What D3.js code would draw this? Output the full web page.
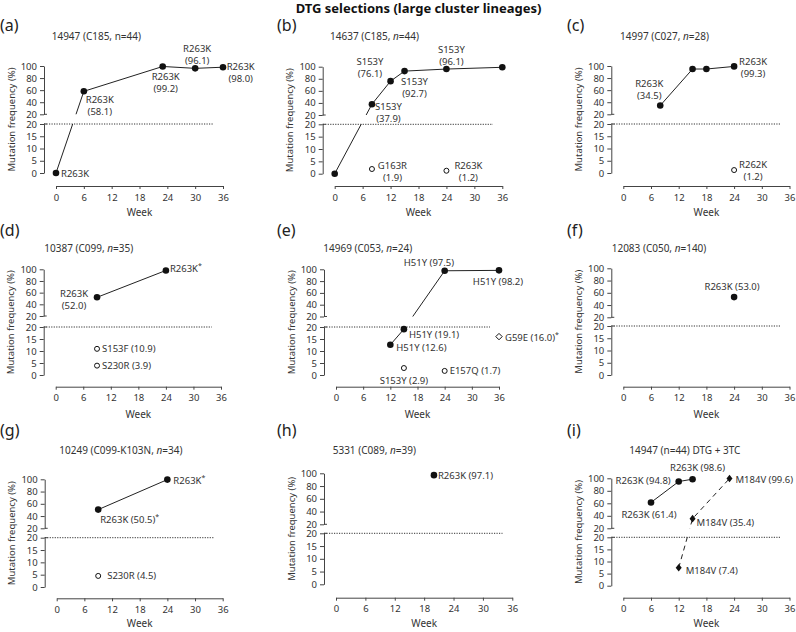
<!DOCTYPE html>
<html>
<head>
<meta charset="utf-8">
<script src="https://cdn.jsdelivr.net/npm/d3@7"></script>
<style>
  body { margin: 0; background: #fff; }
  svg text { font-family: "Noto Sans", "Open Sans", sans-serif; }
</style>
</head>
<body>
<svg id="chart" width="796" height="632"></svg>
<script>
// ---------------- DATA ----------------
const chartTitle = "DTG selections (large cluster lineages)";
const panelKeys = ["a", "b", "c", "d", "e", "f", "g", "h", "i"];
const panelLetters = ["(a)", "(b)", "(c)", "(d)", "(e)", "(f)", "(g)", "(h)", "(i)"];
const subtitles = [
  "14947 (C185, n=44)", "14637 (C185, n=44)", "14997 (C027, n=28)",
  "10387 (C099, n=35)", "14969 (C053, n=24)", "12083 (C050, n=140)",
  "10249 (C099-K103N, n=34)", "5331 (C089, n=39)", "14947 (n=44) DTG + 3TC"
];
const italicN = [false, true, true, true, true, true, true, true, false];

const weekTicks = [0, 6, 12, 18, 24, 30, 36];
const upperTicks = [20, 40, 60, 80, 100];
const lowerTicks = [0, 5, 10, 15, 20];
const yAxisTitle = "Mutation frequency (%)";
const xAxisTitle = "Week";

// (a)
const aWeeks = [0, 6, 23, 30, 36];
const aFreq = [0, 58.1, 99.2, 96.1, 98.0];
const aLabels = ["R263K", "R263K|(58.1)", "R263K|(99.2)", "R263K|(96.1)", "R263K|(98.0)"];
// (b)
const bWeeks = [0, 8, 12, 15, 24, 36];
const bFreq = [0, 37.9, 76.1, 92.7, 96.1, 99.0];
const bLabels = ["", "S153Y|(37.9)", "S153Y|(76.1)", "S153Y|(92.7)", "S153Y|(96.1)", ""];
const bMinorWeeks = [8, 24];
const bMinorFreq = [1.9, 1.2];
const bMinorLabels = ["G163R|(1.9)", "R263K|(1.2)"];
// (c)
const cWeeks = [8, 15, 18, 24];
const cFreq = [34.5, 95.0, 95.0, 99.3];
const cLabels = ["R263K|(34.5)", "", "", "R263K|(99.3)"];
const cMinorWeeks = [24];
const cMinorFreq = [1.2];
const cMinorLabels = ["R262K|(1.2)"];
// (d)
const dWeeks = [9, 24];
const dFreq = [52.0, 98.0];
const dLabels = ["R263K|(52.0)", "R263K*"];
const dMinorWeeks = [9, 9];
const dMinorFreq = [10.9, 3.9];
const dMinorLabels = ["S153F (10.9)", "S230R (3.9)"];
// (e)
const eWeeks = [12, 15, 24, 36];
const eFreq = [12.6, 19.1, 97.5, 98.2];
const eLabels = ["H51Y (12.6)", "H51Y (19.1)", "H51Y (97.5)", "H51Y (98.2)"];
const eMinorWeeks = [15, 24];
const eMinorFreq = [2.9, 1.7];
const eMinorLabels = ["S153Y (2.9)", "E157Q (1.7)"];
const eOtherWeeks = [36];
const eOtherFreq = [16.0];
const eOtherLabels = ["G59E (16.0)*"];
// (f)
const fWeeks = [24];
const fFreq = [53.0];
const fLabels = ["R263K (53.0)"];
// (g)
const gWeeks = [9, 24];
const gFreq = [50.5, 99.5];
const gLabels = ["R263K (50.5)*", "R263K*"];
const gMinorWeeks = [9];
const gMinorFreq = [4.5];
const gMinorLabels = ["S230R (4.5)"];
// (h)
const hWeeks = [20];
const hFreq = [97.1];
const hLabels = ["R263K (97.1)"];
// (i)
const iWeeks = [6, 12, 15];
const iFreq = [61.4, 94.8, 98.6];
const iLabels = ["R263K (61.4)", "R263K (94.8)", "R263K (98.6)"];
const iM184Weeks = [12, 15, 23];
const iM184Freq = [7.4, 35.4, 99.6];
const iM184Labels = ["M184V (7.4)", "M184V (35.4)", "M184V (99.6)"];

// ---------------- LAYOUT ----------------
const LAYOUT = {
  a: {lx: 0,   ly: 25,  sx: 51.7, sy: 35.7, x0: 56,    x36: 223,   y100: 66,    y20u: 114.3, y20l: 124,   y0: 173,   xAxisY: 186,   weekDy: 26},
  b: {lx: 277, ly: 25,  sx: 330,  sy: 35.7, x0: 334.7, x36: 502.3, y100: 66.7,  y20u: 115,   y20l: 124.3, y0: 173.7, xAxisY: 186,   weekDy: 26},
  c: {lx: 567, ly: 25,  sx: 620,  sy: 35.7, x0: 623.3, x36: 789.5, y100: 66,    y20u: 114.3, y20l: 124,   y0: 173,   xAxisY: 186,   weekDy: 26},
  d: {lx: 0,   ly: 230, sx: 44.3, sy: 248,  x0: 55.7,  x36: 221,   y100: 269.3, y20u: 316,   y20l: 327,   y0: 375,   xAxisY: 386.7, weekDy: 27},
  e: {lx: 277, ly: 230, sx: 323.3,sy: 248,  x0: 336,   x36: 499,   y100: 269.3, y20u: 316.5, y20l: 327,   y0: 375,   xAxisY: 386.7, weekDy: 27},
  f: {lx: 567, ly: 230, sx: 611.7,sy: 248,  x0: 623.3, x36: 789.5, y100: 268.3, y20u: 317.3, y20l: 326,   y0: 375,   xAxisY: 386.7, weekDy: 27},
  g: {lx: 0,   ly: 430, sx: 59.3, sy: 450,  x0: 56.7,  x36: 222.7, y100: 479.3, y20u: 528.3, y20l: 537.7, y0: 587,   xAxisY: 598.3, weekDy: 25},
  h: {lx: 277, ly: 430, sx: 332.7,sy: 450,  x0: 336,   x36: 512.3, y100: 473.3, y20u: 524.3, y20l: 533.3, y0: 584.3, xAxisY: 597.7, weekDy: 25},
  i: {lx: 567, ly: 430, sx: 629.3,sy: 450,  x0: 623.3, x36: 789.5, y100: 478.3, y20u: 528.3, y20l: 537.3, y0: 585.7, xAxisY: 597.7, weekDy: 25}
};
// label offsets [dx, dy(first line centre), anchor]
const aLabelPos = [[5, 0, "start"], [16, 8, "middle"], [3, 10.5, "middle"], [2, -20, "middle"], [17.7, -1.2, "middle"]];
const bLabelPos = [null, [16.5, 2.5, "middle"], [-20.6, -19.4, "middle"], [10, 10, "middle"], [5, -19.7, "middle"], null];
const bMinorPos = [[20.5, -3.3, "middle"], [22, -5.7, "middle"]];
const cLabelPos = [[-11, -22, "middle"], null, null, [19, -5, "middle"]];
const cMinorPos = [[19, -6, "middle"]];
const dLabelPos = [[-23, -4, "middle"], [4, -2, "start"]];
const dMinorPos = [[5, 0, "start"], [5, 0, "start"]];
const eLabelPos = [[6, 2.5, "start"], [5, 5, "start"], [-15.7, -8.5, "middle"], [-1, 11, "middle"]];
const eMinorPos = [[0, 12.7, "middle"], [5, 0, "start"]];
const eOtherPos = [[6, 0, "start"]];
const fLabelPos = [[-2, -10.5, "middle"]];
const gLabelPos = [[2, 9.5, "start"], [6, 0, "start"]];
const gMinorPos = [[9, 0, "start"]];
const hLabelPos = [[4, 0, "start"]];
const iLabelPos = [[-2, 12, "middle"], [-8, -1, "end"], [5, -12, "middle"]];
const iM184Pos = [[7, 3, "start"], [4, 3.6, "start"], [6, 1, "start"]];

const TEXT = "#333";
const AXIS = "#444";
const INK = "#111";

function zip(w, f, l, p) { return w.map((d, k) => ({w: d, f: f[k], label: l[k], pos: p[k]})); }

const SERIES = {
  a: [{kind: "main", pts: zip(aWeeks, aFreq, aLabels, aLabelPos)}],
  b: [{kind: "main", pts: zip(bWeeks, bFreq, bLabels, bLabelPos)},
      {kind: "minor", pts: zip(bMinorWeeks, bMinorFreq, bMinorLabels, bMinorPos)}],
  c: [{kind: "main", pts: zip(cWeeks, cFreq, cLabels, cLabelPos)},
      {kind: "minor", pts: zip(cMinorWeeks, cMinorFreq, cMinorLabels, cMinorPos)}],
  d: [{kind: "main", pts: zip(dWeeks, dFreq, dLabels, dLabelPos)},
      {kind: "minor", pts: zip(dMinorWeeks, dMinorFreq, dMinorLabels, dMinorPos)}],
  e: [{kind: "main", pts: zip(eWeeks, eFreq, eLabels, eLabelPos)},
      {kind: "minor", pts: zip(eMinorWeeks, eMinorFreq, eMinorLabels, eMinorPos)},
      {kind: "openDiamond", pts: zip(eOtherWeeks, eOtherFreq, eOtherLabels, eOtherPos)}],
  f: [{kind: "main", pts: zip(fWeeks, fFreq, fLabels, fLabelPos)}],
  g: [{kind: "main", pts: zip(gWeeks, gFreq, gLabels, gLabelPos)},
      {kind: "minor", pts: zip(gMinorWeeks, gMinorFreq, gMinorLabels, gMinorPos)}],
  h: [{kind: "main", pts: zip(hWeeks, hFreq, hLabels, hLabelPos)}],
  i: [{kind: "main", pts: zip(iWeeks, iFreq, iLabels, iLabelPos)},
      {kind: "diamondDash", pts: zip(iM184Weeks, iM184Freq, iM184Labels, iM184Pos)}]
};

const svg = d3.select("#chart");

svg.append("text")
  .attr("x", 418.5).attr("y", 12.8)
  .attr("text-anchor", "middle")
  .attr("font-size", 13).attr("font-weight", "bold").attr("fill", "#111")
  .text(chartTitle);

function addLabel(g, px, py, text, pos) {
  if (!text || !pos) return;
  const lines = text.split("|");
  lines.forEach((ln, k) => {
    const t = g.append("text")
      .attr("x", px + pos[0]).attr("y", py + pos[1] + k * 12)
      .attr("text-anchor", pos[2])
      .attr("dominant-baseline", "central")
      .attr("font-size", 9.5).attr("fill", TEXT);
    if (ln.endsWith("*")) {
      t.append("tspan").text(ln.slice(0, -1));
      t.append("tspan").attr("font-size", 7).attr("dy", -3).text("*");
    } else {
      t.text(ln);
    }
  });
}

panelKeys.forEach((key, idx) => {
  const L = LAYOUT[key];
  const g = svg.append("g");
  const x = d3.scaleLinear().domain([0, 36]).range([L.x0, L.x36]);
  const yHi = d3.scaleLinear().domain([20, 100]).range([L.y20u, L.y100]);
  const yLo = d3.scaleLinear().domain([0, 20]).range([L.y0, L.y20l]);
  const y = v => (v > 20 ? yHi(v) : yLo(v));
  const axX = L.x0 - 12;

  // panel letter
  g.append("text").attr("x", L.lx).attr("y", L.ly).attr("dominant-baseline", "central")
    .attr("font-size", 16).attr("fill", "#222").text(panelLetters[idx]);
  // subtitle
  const st = g.append("text").attr("x", L.sx).attr("y", L.sy).attr("dominant-baseline", "central")
    .attr("font-size", 10).attr("fill", TEXT);
  const sub = subtitles[idx];
  if (italicN[idx]) {
    const parts = sub.split("n=");
    st.append("tspan").text(parts[0]);
    st.append("tspan").attr("font-style", "italic").text("n");
    st.append("tspan").text("=" + parts[1]);
  } else {
    st.text(sub);
  }

  // axes
  const styleAxis = sel => {
    sel.selectAll("path").attr("stroke", AXIS);
    sel.selectAll("line").attr("stroke", AXIS);
    sel.selectAll("text").attr("fill", TEXT).attr("font-size", 9)
      .attr("font-family", "Noto Sans, Open Sans, sans-serif");
  };
  g.append("g").attr("transform", `translate(${axX},0)`)
    .call(d3.axisLeft(yHi).tickValues(upperTicks).tickSize(4).tickSizeOuter(0).tickPadding(3))
    .call(styleAxis);
  g.append("g").attr("transform", `translate(${axX},0)`)
    .call(d3.axisLeft(yLo).tickValues(lowerTicks).tickSize(4).tickSizeOuter(0).tickPadding(3))
    .call(styleAxis);
  [yHi(20), yLo(20)].forEach(yy => {
    g.append("line").attr("x1", axX).attr("x2", axX + 3).attr("y1", yy).attr("y2", yy)
      .attr("stroke", AXIS);
  });
  g.append("g").attr("transform", `translate(0,${L.xAxisY})`)
    .call(d3.axisBottom(x).tickValues(weekTicks).tickSize(3).tickSizeOuter(0).tickPadding(5))
    .call(styleAxis);
  g.selectAll("g.tick text").attr("font-size", 9.5);

  // axis titles
  g.append("text")
    .attr("transform", `translate(${axX - 33},${(L.y100 + L.y0) / 2}) rotate(-90)`)
    .attr("text-anchor", "middle").attr("dominant-baseline", "central")
    .attr("font-size", 9.5).attr("fill", TEXT).text(yAxisTitle);
  g.append("text")
    .attr("x", (L.x0 + L.x36) / 2).attr("y", L.xAxisY + L.weekDy)
    .attr("text-anchor", "middle").attr("dominant-baseline", "central")
    .attr("font-size", 10).attr("fill", TEXT).text(xAxisTitle);

  // 20% threshold
  g.append("line").attr("x1", axX).attr("x2", x(34))
    .attr("y1", yLo(20)).attr("y2", yLo(20))
    .attr("stroke", "#333").attr("stroke-width", 1).attr("stroke-dasharray", "1.2,1.3");

  // clip out the axis break band for connecting lines
  const cid = "clip-" + key;
  const cp = g.append("clipPath").attr("id", cid);
  cp.append("rect").attr("x", 0).attr("y", 0).attr("width", 796).attr("height", yHi(20));
  cp.append("rect").attr("x", 0).attr("y", yLo(20)).attr("width", 796).attr("height", 632 - yLo(20));

  const line = d3.line().x(d => x(d.w)).y(d => y(d.f));

  SERIES[key].forEach(s => {
    if (s.kind === "main" && s.pts.length > 1) {
      g.append("path").attr("d", line(s.pts)).attr("fill", "none")
        .attr("stroke", "#222").attr("stroke-width", 1).attr("clip-path", `url(#${cid})`);
    }
    if (s.kind === "diamondDash") {
      g.append("path").attr("d", line(s.pts)).attr("fill", "none")
        .attr("stroke", "#222").attr("stroke-width", 1).attr("stroke-dasharray", "5,4")
        .attr("clip-path", `url(#${cid})`);
    }
    s.pts.forEach(p => {
      const px = x(p.w), py = y(p.f);
      if (s.kind === "main") {
        g.append("circle").attr("cx", px).attr("cy", py).attr("r", 3.3).attr("fill", INK);
      } else if (s.kind === "minor") {
        g.append("circle").attr("cx", px).attr("cy", py).attr("r", 2.5)
          .attr("fill", "#fff").attr("stroke", INK).attr("stroke-width", 1);
      } else if (s.kind === "openDiamond") {
        g.append("path").attr("transform", `translate(${px},${py})`)
          .attr("d", "M0,-3.2L3.2,0L0,3.2L-3.2,0Z")
          .attr("fill", "#fff").attr("stroke", INK).attr("stroke-width", 1);
      } else if (s.kind === "diamondDash") {
        g.append("path").attr("transform", `translate(${px},${py})`)
          .attr("d", "M0,-3.8L3,0L0,3.8L-3,0Z").attr("fill", INK);
      }
      addLabel(g, px, py, p.label, p.pos);
    });
  });
});
</script>
</body>
</html>
